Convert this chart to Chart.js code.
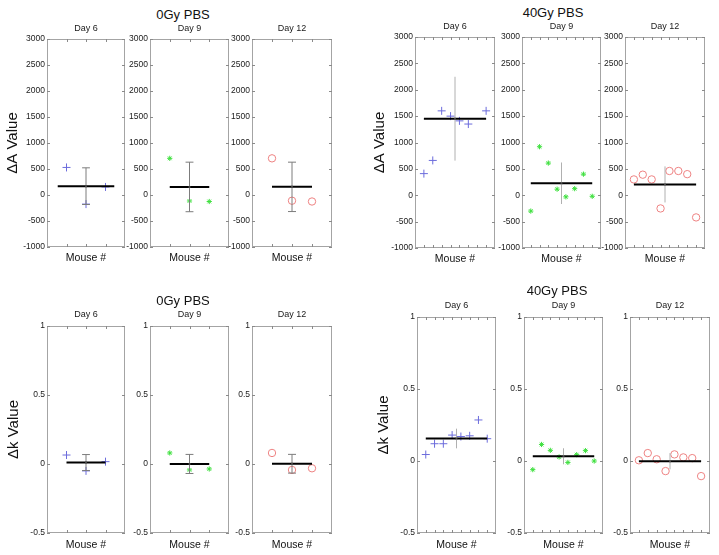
<!DOCTYPE html>
<html>
<head>
<meta charset="utf-8">
<script src="https://cdn.jsdelivr.net/npm/chart.js@4.4.1/dist/chart.umd.min.js"></script>
<style>
  body { margin: 0; background: #fff; }
  #fig { position: relative; width: 719px; height: 555px; overflow: hidden; font-family: 'Liberation Sans', Arial, Helvetica, sans-serif; }
  .gt { position: absolute; font-size: 13px; color: #111; transform: translate(-50%, -50%); white-space: nowrap; }
</style>
</head>
<body>
<div id="fig"></div>
<script>
Chart.defaults.font.family = "'Liberation Sans', Arial, Helvetica, sans-serif";
Chart.defaults.color = '#1a1a1a';

// mouse numbers (x) and axis ticks
const mice0Gy = [1, 2, 3];
const mice40Gy = [1, 2, 3, 4, 5, 6, 7, 8];
const dayLabels = ['Day 6', 'Day 9', 'Day 12'];
const ticksA = [-1000, -500, 0, 500, 1000, 1500, 2000, 2500, 3000];
const ticksK = [-0.5, 0, 0.5, 1];

// ΔA values
const dA_0Gy_d6 = [530, -175, 155];
const dA_0Gy_d9 = [705, -115, -125];
const dA_0Gy_d12 = [705, -110, -125];
const dA_40Gy_d6 = [410, 660, 1600, 1500, 1410, 1350, 3080, 1600]; // mouse 7 is above the axis
const dA_40Gy_d9 = [-300, 920, 610, 115, -30, 125, 400, -20];
const dA_40Gy_d12 = [300, 390, 300, -250, 460, 460, 400, -420];

// Δk values
const dk_0Gy_d6 = [0.065, -0.05, 0.017];
const dk_0Gy_d9 = [0.08, -0.043, -0.036];
const dk_0Gy_d12 = [0.08, -0.043, -0.031];
const dk_40Gy_d6 = [0.045, 0.12, 0.12, 0.18, 0.17, 0.175, 0.285, 0.155];
const dk_40Gy_d9 = [-0.06, 0.115, 0.074, 0.028, -0.01, 0.044, 0.072, 0];
const dk_40Gy_d12 = [0.005, 0.055, 0.012, -0.07, 0.046, 0.025, 0.02, -0.105];

// x range of the mean line in each panel
const span0Gy_A = [[0.55, 3.45], [1, 3], [1, 3]];
const span0Gy_K = [[1, 3], [1, 3], [1, 3]];
const span40Gy = [[1, 8], [1, 8], [1, 8]];

// marker per day: + / * / o
const markers = [
  { style: 'cross', color: '#6c6cdc', r: 4 },
  { style: 'star', color: '#3fe03f', r: 2.6 },
  { style: 'circle', color: '#ee8282', r: 3.7 },
];

function mean(a) {
  return a.reduce((s, v) => s + v, 0) / a.length;
}
function std(a) {
  const m = mean(a);
  return Math.sqrt(a.reduce((s, v) => s + (v - m) * (v - m), 0) / (a.length - 1));
}

// MATLAB風の枠と内向きの目盛り
const matBox = {
  id: 'matBox',
  beforeDatasetsDraw(chart) {
    const { ctx, chartArea: { left, right, top, bottom } } = chart;
    ctx.save();
    ctx.strokeStyle = '#a4a4a4';
    ctx.lineWidth = 1;
    ctx.strokeRect(left + 0.5, top + 0.5, right - left - 1, bottom - top - 1);
    ctx.strokeStyle = '#8a8a8a';
    ctx.beginPath();
    chart.scales.y.ticks.forEach((t) => {
      const y = Math.round(chart.scales.y.getPixelForValue(t.value)) + 0.5;
      ctx.moveTo(left, y); ctx.lineTo(left + 3, y);
      ctx.moveTo(right, y); ctx.lineTo(right - 3, y);
    });
    chart.scales.x.ticks.forEach((t) => {
      const x = Math.round(chart.scales.x.getPixelForValue(t.value)) + 0.5;
      ctx.moveTo(x, top); ctx.lineTo(x, top + 3);
      ctx.moveTo(x, bottom); ctx.lineTo(x, bottom - 3);
    });
    ctx.stroke();
    ctx.restore();
  },
};

const groups = [
  { name: '0Gy PBS', tx: 183, ty: 14, ylab: 'ΔA Value', ylx: 13, top: 39, bottom: 247, dayY: 29, mouseY: 258,
    lefts: [47, 150, 252], rights: [125, 229, 332], mice: mice0Gy, ticks: ticksA, min: -1000, max: 3000,
    series: [dA_0Gy_d6, dA_0Gy_d9, dA_0Gy_d12], spans: span0Gy_A, caps: true, barColor: '#7c7c7c' },
  { name: '40Gy PBS', tx: 553, ty: 12, ylab: 'ΔA Value', ylx: 380, top: 37, bottom: 248, dayY: 27, mouseY: 259,
    lefts: [415, 522, 625], rights: [495, 601, 705], mice: mice40Gy, ticks: ticksA, min: -1000, max: 3000,
    series: [dA_40Gy_d6, dA_40Gy_d9, dA_40Gy_d12], spans: span40Gy, caps: false, barColor: '#b0b0b0' },
  { name: '0Gy PBS', tx: 183, ty: 300, ylab: 'Δk Value', ylx: 14, top: 326, bottom: 533, dayY: 315, mouseY: 545,
    lefts: [47, 150, 252], rights: [125, 229, 332], mice: mice0Gy, ticks: ticksK, min: -0.5, max: 1,
    series: [dk_0Gy_d6, dk_0Gy_d9, dk_0Gy_d12], spans: span0Gy_K, caps: true, barColor: '#7c7c7c' },
  { name: '40Gy PBS', tx: 557, ty: 290, ylab: 'Δk Value', ylx: 384, top: 317, bottom: 533, dayY: 306, mouseY: 545,
    lefts: [417, 524, 630], rights: [496, 603, 710], mice: mice40Gy, ticks: ticksK, min: -0.5, max: 1,
    series: [dk_40Gy_d6, dk_40Gy_d9, dk_40Gy_d12], spans: span40Gy, caps: false, barColor: '#b0b0b0' },
];

const fig = document.getElementById('fig');

function panel(g, k) {
  const first = k === 0;
  const left = g.lefts[k];
  const right = g.rights[k];
  const wy = first ? left - (g.ylx - 10) : 30;
  const ht = 20;
  const d = g.top - g.dayY;
  const hb = Math.round(g.mouseY + 6.3 - g.bottom);
  const pb = hb - (g.mouseY - g.bottom) - 6.3;
  const cw = wy + (right - left) + 2;
  const ch = ht + (g.bottom - g.top) + hb;

  const cv = document.createElement('canvas');
  cv.width = cw;
  cv.height = ch;
  cv.style.cssText = 'position:absolute;left:' + (left - wy) + 'px;top:' + (g.top - ht) + 'px;width:' + cw + 'px;height:' + ch + 'px';
  fig.appendChild(cv);

  const vals = g.series[k];
  const m = mean(vals);
  const s = std(vals);
  const c = (g.mice.length + 1) / 2;
  const mk = markers[k];

  const datasets = [
    {
      data: vals.map((v, i) => ({ x: g.mice[i], y: v })),
      pointStyle: mk.style, pointRadius: mk.r, pointBorderWidth: 1,
      pointBorderColor: mk.color, pointBackgroundColor: 'rgba(0,0,0,0)',
      showLine: false, clip: 0, order: 4,
    },
    {
      data: [{ x: g.spans[k][0], y: m }, { x: g.spans[k][1], y: m }],
      showLine: true, borderColor: '#000', borderWidth: 2, pointRadius: 0, order: 2,
    },
    {
      data: [{ x: c, y: m - s }, { x: c, y: m + s }],
      showLine: true, borderColor: g.barColor, borderWidth: 1, pointRadius: 0, order: 1,
    },
    {
      data: [{ x: c, y: m }],
      pointStyle: 'rect', pointRadius: 1.4, pointBorderWidth: 0, pointBackgroundColor: '#444', order: 0,
    },
  ];
  if (g.caps) {
    [m - s, m + s].forEach((y) => {
      datasets.push({
        data: [{ x: c - 0.2, y: y }, { x: c + 0.2, y: y }],
        showLine: true, borderColor: g.barColor, borderWidth: 1, pointRadius: 0, order: 1,
      });
    });
  }

  return new Chart(cv, {
    type: 'scatter',
    data: { datasets: datasets },
    options: {
      responsive: false,
      animation: false,
      layout: { autoPadding: false, padding: { left: 0, right: 2, top: 0, bottom: 0 } },
      plugins: {
        legend: { display: false },
        tooltip: { enabled: false },
        title: {
          display: true,
          text: dayLabels[k],
          fullSize: false,
          font: { size: 9, weight: 'normal', lineHeight: 1.2 },
          color: '#1a1a1a',
          padding: { top: ht - d - 5.4, bottom: d - 5.4 },
        },
      },
      scales: {
        x: {
          type: 'linear',
          min: 0,
          max: g.mice.length + 1,
          grid: { display: false, drawTicks: false },
          border: { display: false },
          ticks: { display: false },
          afterBuildTicks: (sc) => { sc.ticks = g.mice.map((v) => ({ value: v })); },
          afterFit: (sc) => { sc.height = hb; },
          title: {
            display: true,
            text: 'Mouse #',
            font: { size: 10.5, lineHeight: 1.2 },
            color: '#111',
            padding: { top: 0, bottom: pb },
          },
        },
        y: {
          min: g.min,
          max: g.max,
          grid: { display: false, drawTicks: false },
          border: { display: false },
          afterBuildTicks: (sc) => { sc.ticks = g.ticks.map((v) => ({ value: v })); },
          afterFit: (sc) => { sc.width = wy; },
          ticks: { font: { size: 8.5 }, padding: 2, color: '#1a1a1a', callback: (v) => String(v) },
          title: {
            display: first,
            text: g.ylab,
            font: { size: 15, lineHeight: 1.2 },
            color: '#111',
            padding: { top: 1, bottom: 0 },
          },
        },
      },
    },
    plugins: [matBox],
  });
}

groups.forEach((g) => {
  const t = document.createElement('div');
  t.className = 'gt';
  t.style.left = g.tx + 'px';
  t.style.top = g.ty + 'px';
  t.textContent = g.name;
  fig.appendChild(t);
  for (let k = 0; k < 3; k++) panel(g, k);
});
</script>
</body>
</html>
